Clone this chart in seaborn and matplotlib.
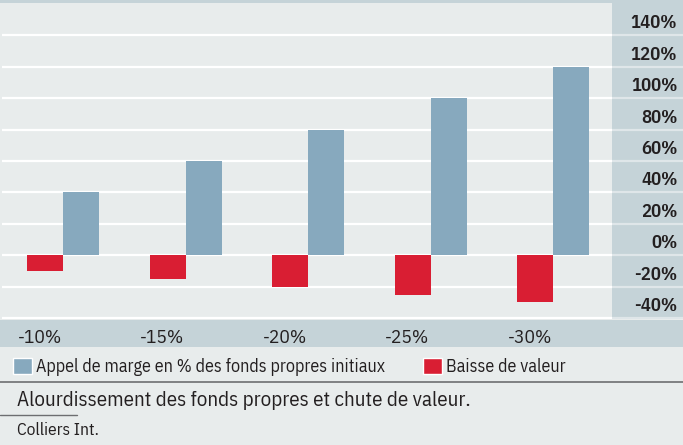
import pandas as pd
import seaborn as sns
import matplotlib.pyplot as plt
import matplotlib.transforms as mtransforms
from matplotlib.patches import Rectangle
from matplotlib.lines import Line2D

# Data
categories = ['-10%', '-15%', '-20%', '-25%', '-30%']
appel_marge = [40, 60, 80, 100, 120]
baisse_valeur = [-10, -15, -20, -25, -30]
yticks = [-40, -20, 0, 20, 40, 60, 80, 100, 120, 140]
ytick_labels = ['-40%', '-20%', '0%', '20%', '40%', '60%', '80%', '100%', '120%', '140%']
serie_appel = 'Appel de marge en % des fonds propres initiaux'
serie_baisse = 'Baisse de valeur'
caption = 'Alourdissement des fonds propres et chute de valeur.'
source = 'Colliers Int.'

BLUE = '#87a9be'
RED = '#d91e33'
BG = '#e8ecec'
STRIP = '#c5d3d8'
TEXT = '#231f20'

sns.set_theme(style='white')
plt.rcParams['font.family'] = ['IBM Plex Sans Condensed', 'DejaVu Sans']

df = pd.DataFrame({
    'scenario': categories * 2,
    'value': baisse_valeur + appel_marge,
    'serie': [serie_baisse] * len(categories) + [serie_appel] * len(categories),
})

W, H = 683, 445
fig = plt.figure(figsize=(W / 100, H / 100), dpi=100, facecolor=BG)


def box(left, top, right, bottom):
    return [left / W, 1 - bottom / H, (right - left) / W, (bottom - top) / H]


# top band and x-axis band
fig.patches.append(Rectangle((0, 1 - 3 / H), 1, 3 / H, transform=fig.transFigure,
                             facecolor=STRIP, edgecolor='none', zorder=-1))
fig.patches.append(Rectangle((0, 1 - 347 / H), 1, 27 / H, transform=fig.transFigure,
                             facecolor=STRIP, edgecolor='none', zorder=-1))

ax = fig.add_axes(box(2, 3, 612, 319))
ax.set_facecolor(BG)
sns.barplot(data=df, x='scenario', y='value', hue='serie',
            hue_order=[serie_baisse, serie_appel], palette=[RED, BLUE],
            width=0.588, saturation=1, dodge=True, legend=False, ax=ax,
            linewidth=0, edgecolor='none', zorder=3)
ax.set_ylim(-40.6, 160.7)
ax.set_xlim(-0.498, 4.48)
ax.set_yticks(yticks)
ax.set_yticklabels([])
ax.tick_params(axis='y', length=0)
ax.grid(axis='y', color='white', lw=1.6, zorder=1)
ax.set_axisbelow(True)
for s in ax.spines.values():
    s.set_visible(False)
ax.set_xlabel('')
ax.set_ylabel('')
ax.set_xticks([i - 0.19 for i in range(len(categories))])
ax.set_xticklabels(categories, fontsize=14, color=TEXT)
ax.tick_params(axis='x', length=0, pad=7)

# right strip with y labels
ax2 = fig.add_axes(box(612, 3, 683, 319))
ax2.set_facecolor(STRIP)
ax2.set_ylim(ax.get_ylim())
ax2.set_xlim(0, 1)
ax2.set_yticks(yticks)
ax2.set_yticklabels([])
ax2.set_xticks([])
ax2.tick_params(length=0)
ax2.grid(axis='y', color='white', lw=1.6, alpha=0.45)
for s in ax2.spines.values():
    s.set_visible(False)
off = mtransforms.offset_copy(ax2.transData, fig=fig, x=0, y=3, units='dots')
for v, lab in zip(yticks, ytick_labels):
    ax2.text(0.92, v, lab, transform=off, ha='right', va='bottom',
             fontsize=13.5, fontweight='semibold', color=TEXT)

# legend
handles = [Rectangle((0, 0), 1, 1, facecolor=BLUE), Rectangle((0, 0), 1, 1, facecolor=RED)]
fig.legend(handles, [serie_appel, serie_baisse], loc='center left',
           bbox_to_anchor=(13 / W, 1 - 367 / H), ncol=2, frameon=False,
           fontsize=13, handlelength=1.05, handleheight=1.0, handletextpad=0.22,
           columnspacing=2.1, borderpad=0, borderaxespad=0, labelcolor=TEXT)

# separator lines and captions
fig.add_artist(Line2D([0, 1], [1 - 382 / H] * 2, color='#6d6e71', lw=1.2))
fig.add_artist(Line2D([0, 77 / W], [1 - 415 / H] * 2, color='#6d6e71', lw=1.0))
fig.text(17 / W, 1 - 400 / H, caption, fontsize=15, color=TEXT, va='center')
fig.text(17 / W, 1 - 430 / H, source, fontsize=12.5, color=TEXT, va='center')

fig.savefig('out.png', dpi=100, facecolor=BG)
